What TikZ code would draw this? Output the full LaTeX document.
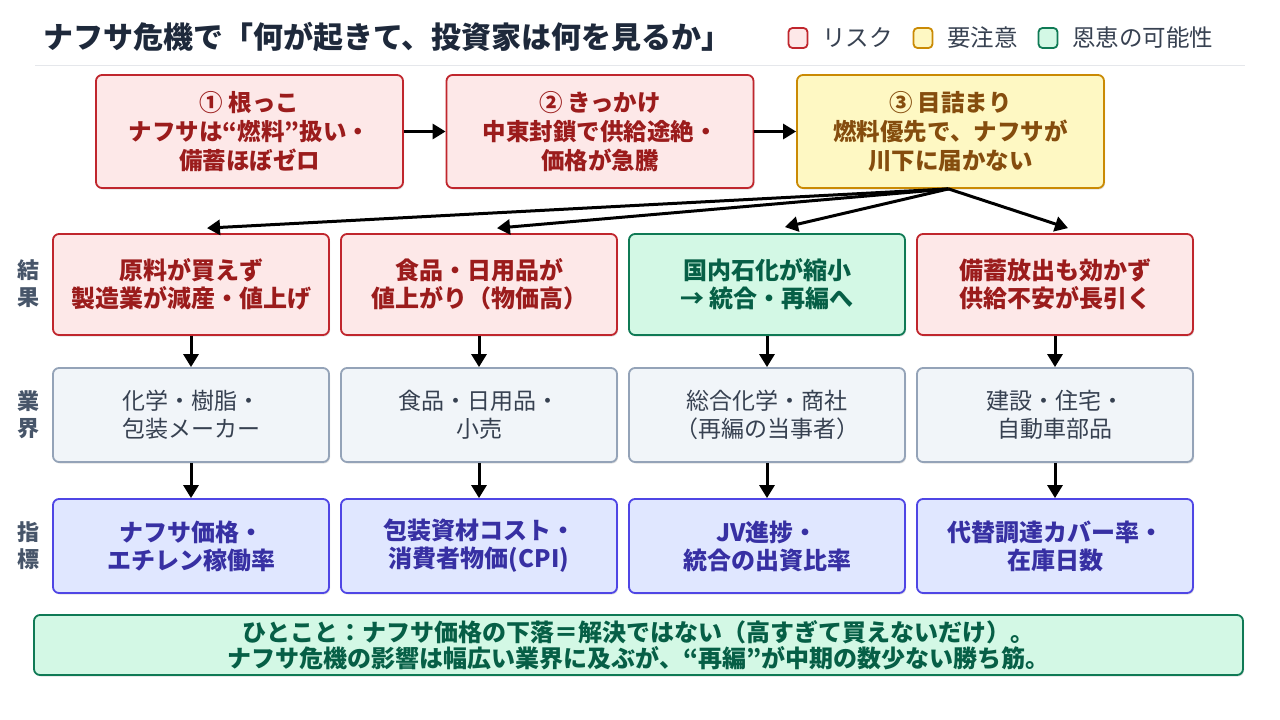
\documentclass[tikz,border=0pt]{standalone}
\usepackage{fontspec}
\setmainfont{Noto Sans CJK JP}
\usetikzlibrary{arrows.meta,shadows}
\definecolor{redfill}{HTML}{FDE8E8}
\definecolor{redline}{HTML}{C0262D}
\definecolor{redtext}{HTML}{9B1C1C}
\definecolor{yelfill}{HTML}{FEF8C3}
\definecolor{yelline}{HTML}{CA8A04}
\definecolor{yeltext}{HTML}{854D0E}
\definecolor{grnfill}{HTML}{D3F8E5}
\definecolor{grnline}{HTML}{0F7A55}
\definecolor{grntext}{HTML}{065F46}
\definecolor{gryfill}{HTML}{F1F5F9}
\definecolor{gryline}{HTML}{94A3B8}
\definecolor{grytext}{HTML}{374151}
\definecolor{blufill}{HTML}{E0E7FF}
\definecolor{bluline}{HTML}{4F46E5}
\definecolor{blutext}{HTML}{3730A3}
\definecolor{titlec}{HTML}{1E293B}
\definecolor{labelc}{HTML}{475569}
\definecolor{sepc}{HTML}{E5E7EB}
\tikzset{
  box/.style={rounded corners=6pt, line width=1.8pt, align=center, inner sep=0pt,
    drop shadow={shadow xshift=1pt, shadow yshift=-1.5pt, opacity=0.12, fill=black}},
  riskbox/.style={box, fill=redfill, draw=redline, text=redtext},
  warnbox/.style={box, fill=yelfill, draw=yelline, text=yeltext},
  gainbox/.style={box, fill=grnfill, draw=grnline, text=grntext},
  indbox/.style={box, fill=gryfill, draw=gryline, text=grytext},
  kpibox/.style={box, fill=blufill, draw=bluline, text=blutext},
  toprow/.style={minimum width=307pt, minimum height=113pt, font=\bfseries\fontsize{23.5}{29}\selectfont},
  cell/.style={minimum width=276pt, minimum height=101pt, font=\bfseries\fontsize{24}{28}\selectfont},
  cellb/.style={minimum width=276pt, minimum height=94pt, font=\fontsize{23}{28}\selectfont},
  cellc/.style={minimum width=276pt, minimum height=94pt, font=\bfseries\fontsize{24}{28}\selectfont},
  rowlab/.style={text=labelc, font=\bfseries\fontsize{22}{27}\selectfont, align=center, inner sep=0pt},
  legsq/.style={rounded corners=4pt, line width=1.8pt, minimum width=19pt, minimum height=20pt, inner sep=0pt},
  legtext/.style={text=grytext, font=\fontsize{23.5}{26}\selectfont, anchor=west, inner sep=0pt},
  flow/.style={line width=3pt, draw=black, -{Triangle[length=13pt,width=15pt]}},
}
\begin{document}
\begin{tikzpicture}[x=1pt,y=-1pt]
\useasboundingbox[fill=white] (0,0) rectangle (1280,720);
% title
\node[anchor=west, inner sep=0pt, text=titlec, font=\bfseries\fontsize{30}{34}\selectfont] (title) at (43,37) {ナフサ危機で「何が起きて、投資家は何を見るか」};
% legend
\node[legsq, fill=redfill, draw=redline] (lg1) at (798,38) {};
\node[legtext] (lt1) at (822,38) {リスク};
\node[legsq, fill=yelfill, draw=yelline] (lg2) at (923,38) {};
\node[legtext] (lt2) at (947,38) {要注意};
\node[legsq, fill=grnfill, draw=grnline] (lg3) at (1048,38) {};
\node[legtext] (lt3) at (1072,38) {恩恵の可能性};
\draw[sepc, line width=1pt] (35,65) -- (1245,65);
% top row
\node[riskbox, toprow] (s1) at (249.5,131.5) {① 根っこ\\ナフサは“燃料”扱い・\\備蓄ほぼゼロ};
\node[riskbox, toprow] (s2) at (600,131.5) {② きっかけ\\中東封鎖で供給途絶・\\価格が急騰};
\node[warnbox, toprow] (s3) at (950.5,131.5) {③ 目詰まり\\燃料優先で、ナフサが\\川下に届かない};
\draw[flow] (s1.east) -- (s2.west);
\draw[flow] (s2.east) -- (s3.west);
% row labels
\node[rowlab] (l1) at (28,284) {結\\果};
\node[rowlab] (l2) at (28,415) {業\\界};
\node[rowlab] (l3) at (28,546) {指\\標};
% result row
\node[riskbox, cell] (r1) at (191,284.5) {原料が買えず\\製造業が減産・値上げ};
\node[riskbox, cell] (r2) at (479,284.5) {食品・日用品が\\値上がり（物価高）};
\node[gainbox, cell] (r3) at (767,284.5) {国内石化が縮小\\→ 統合・再編へ};
\node[riskbox, cell] (r4) at (1055,284.5) {備蓄放出も効かず\\供給不安が長引く};
\coordinate (fan) at ([xshift=-2pt]s3.south);
\draw[flow] (fan) -- ([xshift=16pt,yshift=5pt]r1.north);
\draw[flow] (fan) -- ([xshift=18pt,yshift=5pt]r2.north);
\draw[flow] (fan) -- ([xshift=18pt,yshift=6pt]r3.north);
\draw[flow] (fan) -- ([xshift=13pt,yshift=5pt]r4.north);
% industry row
\node[indbox, cellb] (i1) at (191,415) {化学・樹脂・\\包装メーカー};
\node[indbox, cellb] (i2) at (479,415) {食品・日用品・\\小売};
\node[indbox, cellb] (i3) at (767,415) {総合化学・商社\\（再編の当事者）};
\node[indbox, cellb] (i4) at (1055,415) {建設・住宅・\\自動車部品};
% kpi row
\node[kpibox, cellc] (k1) at (191,546) {ナフサ価格・\\エチレン稼働率};
\node[kpibox, cellc] (k2) at (479,546) {包装資材コスト・\\消費者物価(CPI)};
\node[kpibox, cellc] (k3) at (767,546) {JV進捗・\\統合の出資比率};
\node[kpibox, cellc] (k4) at (1055,546) {代替調達カバー率・\\在庫日数};
\foreach \a/\b in {r1/i1,r2/i2,r3/i3,r4/i4,i1/k1,i2/k2,i3/k3,i4/k4}
  \draw[flow] (\a.south) -- (\b.north);
% bottom note
\node[gainbox, minimum width=1209pt, minimum height=60pt, font=\bfseries\fontsize{24}{26}\selectfont] (note) at (638.5,645) {ひとこと：ナフサ価格の下落＝解決ではない（高すぎて買えないだけ）。\\ナフサ危機の影響は幅広い業界に及ぶが、“再編”が中期の数少ない勝ち筋。};
\end{tikzpicture}
\end{document}
